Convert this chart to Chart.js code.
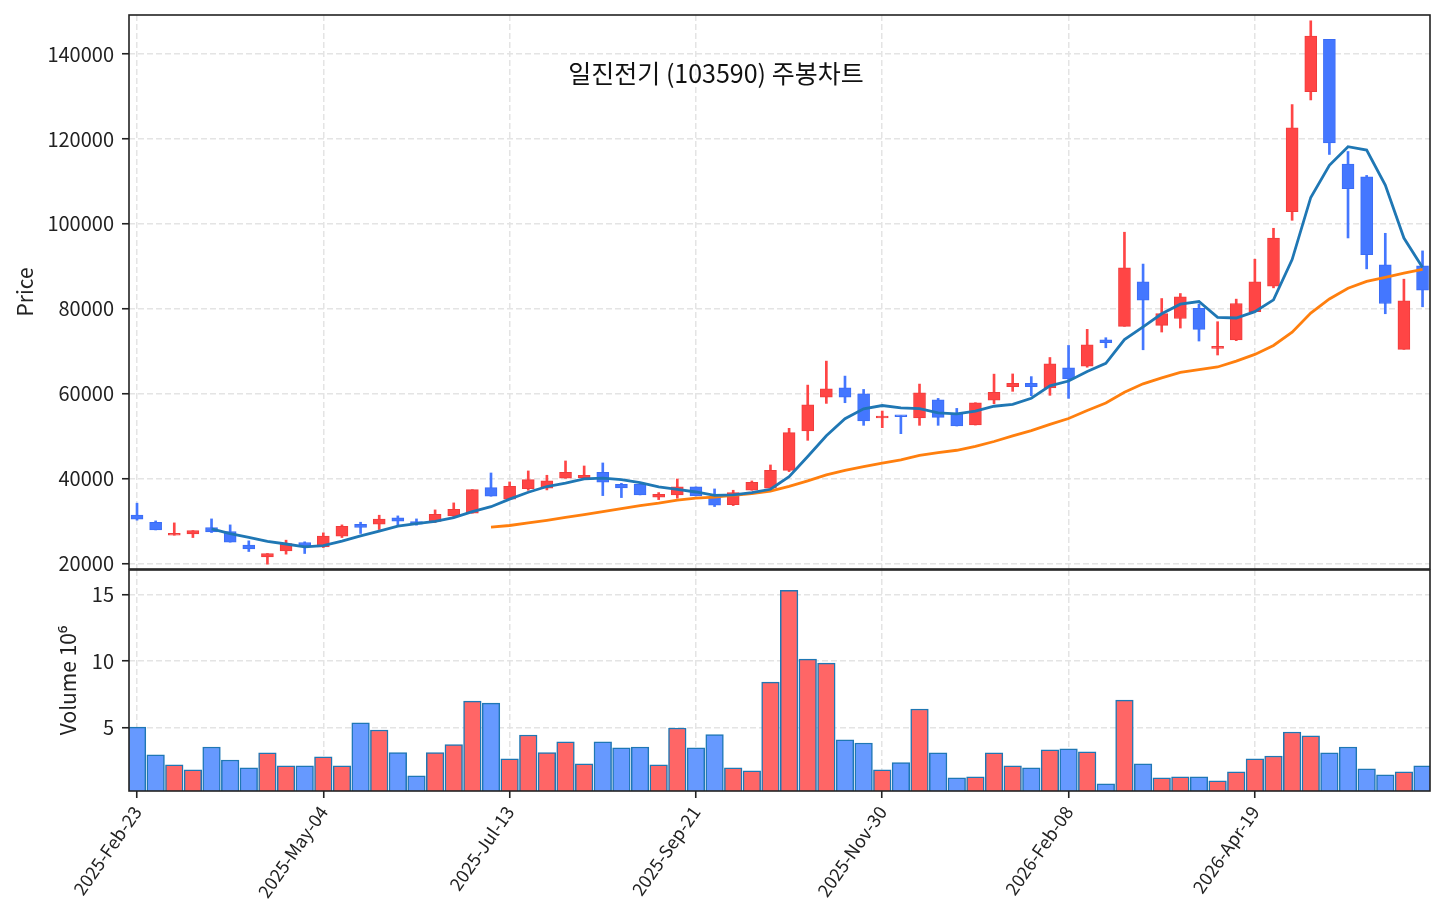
<!DOCTYPE html>
<html><head><meta charset="utf-8">
<script src="https://cdn.jsdelivr.net/npm/chart.js@4.4.1/dist/chart.umd.min.js"></script>
<style>
html,body{margin:0;padding:0;background:#fff;width:1446px;height:924px;overflow:hidden;}
#wrap{position:relative;width:1446px;height:924px;}
canvas{position:absolute;left:0;top:0;}
#title{position:absolute;left:416px;width:600px;top:54px;text-align:center;font-family:'Noto Sans CJK KR','Noto Sans',sans-serif;font-size:25px;line-height:36px;color:#111;white-space:nowrap;}
</style></head><body>
<div id="wrap">
<canvas id="c1" width="1446" height="924"></canvas>
<canvas id="c2" width="1446" height="924"></canvas>
<div id="title">일진전기 (103590) 주봉차트</div>
</div>
<script>
// ---- data (weekly candles, index 0 = 2025-Feb-23) ----
const xTickIdx = [0, 10, 20, 30, 40, 50, 60];
const xTickLabels = ['2025-Feb-23','2025-May-04','2025-Jul-13','2025-Sep-21','2025-Nov-30','2026-Feb-08','2026-Apr-19'];
const priceTicks = [20000, 40000, 60000, 80000, 100000, 120000, 140000];
const volTicks = [5, 10, 15];

const openP = [31400,29720,26660,26980,28470,27530,24310,21570,22980,24940,
  23920,26430,29250,29250,30740,29880,29880,31210,31840,37880,
  35130,37640,37720,40070,40230,41480,38660,38660,35600,36150,
  38030,35680,33880,37250,37720,41950,51200,59200,61400,59980,
  54260,54810,54260,58570,55360,52610,58490,61660,62450,61340,
  66080,66470,72700,75860,86350,76100,77700,80080,70680,72640,
  79300,85330,102870,131150,143450,114070,111100,90340,70440,90100];
const highP = [34200,30030,29560,27760,30500,29090,25330,22350,25490,25100,
  27210,29090,29720,31370,31210,30500,32620,34270,37400,41320,
  39210,41800,40780,44150,42970,43680,38890,38660,36700,39910,
  38030,37560,37250,39440,43210,51830,62020,67670,64140,61000,
  55910,54810,62260,58890,56530,57870,64600,64650,64020,68520,
  71360,75150,73180,98030,90530,82410,83590,81100,76950,82270,
  91670,98960,128100,147830,143450,117050,111410,97780,86970,93630];
const lowP = [30200,27900,26660,26110,27290,25020,22820,19840,22200,22350,
  23760,26110,27060,28000,29090,29020,29640,30820,31840,35840,
  35130,37250,37330,40070,40230,35990,35520,36150,35050,35370,
  35920,33410,33640,37250,37720,41640,49010,57710,57870,52540,
  51990,50580,52540,52540,52380,52610,57650,60550,59530,59610,
  58900,66230,70810,75860,70340,74520,75460,72400,69110,72480,
  79300,84930,100840,129190,116350,96680,89400,78830,70440,80470];
const closeP = [30430,27920,27130,27760,27450,25020,23450,22350,24700,24080,
  26430,28780,28470,30430,29960,29250,31600,32780,37400,35840,
  38190,39760,39440,41480,40780,39130,37800,36150,36310,38030,
  35920,33720,36700,39130,41950,50810,57400,61160,59200,53560,
  54730,54570,60220,54420,52380,57870,60300,62450,61660,67020,
  63470,71520,71990,89670,82010,78860,82800,75140,71070,81250,
  86340,96680,122610,144230,119090,108280,92770,81250,81880,84390];
const volume = [5.02,2.92,2.17,1.79,3.52,2.54,1.94,3.07,2.09,2.09,
  2.77,2.09,5.33,4.80,3.10,1.34,3.10,3.70,6.98,6.83,
  2.62,4.42,3.10,3.90,2.24,3.90,3.45,3.52,2.17,4.95,
  3.45,4.45,1.94,1.72,8.41,15.32,10.14,9.84,4.05,3.82,
  1.79,2.34,6.38,3.07,1.19,1.27,3.07,2.09,1.94,3.30,
  3.37,3.15,0.74,7.05,2.24,1.19,1.27,1.27,0.97,1.64,
  2.62,2.84,4.65,4.35,3.07,3.52,1.87,1.42,1.64,2.09];
const ma5 = [null,null,null,null,28140,27060,26160,25210,24590,23920,
  24200,25270,26490,27640,28810,29380,29940,30800,32200,33370,
  35160,36790,38130,38940,39930,40120,39730,39070,38030,37480,
  36840,36030,36140,36700,37480,40460,45200,50090,54100,56430,
  57210,56640,56460,55500,55260,55890,57040,57480,58930,61860,
  62980,65220,67130,72730,75730,78810,81070,81700,77980,77820,
  79320,82100,91590,106220,113790,118180,117400,109120,96650,89710];
const ma20 = [null,null,null,null,null,null,null,null,null,null,
  null,null,null,null,null,null,null,null,null,28560,
  28950,29540,30160,30840,31510,32220,32930,33620,34200,34900,
  35380,35620,36030,36470,37070,38150,39440,40860,41950,42830,
  43660,44400,45440,46090,46670,47600,48730,50040,51310,52760,
  54140,56030,57790,60320,62320,63720,64990,65690,66290,67670,
  69250,71360,74480,78970,82300,84820,86450,87390,88400,89270];

// ---- styling ----
const FONT = "'Noto Sans CJK KR','Noto Sans',sans-serif";
Chart.defaults.font.family = FONT;
Chart.defaults.color = '#222';
const GRID = '#e4e4e4';
const DASH = [6, 3];
const TICK_FS = 20, XTICK_FS = 18, LABEL_FS = 21;
const idx = closeP.map((_, i) => i);
const isUp = i => closeP[i] >= openP[i];
const candleFill = idx.map(i => isUp(i) ? '#ff4545' : '#4477ff');
const candleEdge = idx.map(i => isUp(i) ? '#f03c3c' : '#3a6cf5');
const volFill = idx.map(i => isUp(i) ? '#ff6666' : '#6699ff');
const XMIN = -0.43, XMAX = 69.4;

const framePlugin = {
  id: 'frame',
  afterDraw(chart) {
    const {ctx, chartArea: a} = chart;
    ctx.save();
    ctx.strokeStyle = '#222';
    ctx.lineWidth = 1.6;
    ctx.strokeRect(a.left, a.top, a.right - a.left, a.bottom - a.top);
    ctx.restore();
  }
};

const labelOf = v => { const k = xTickIdx.indexOf(v); return k >= 0 ? xTickLabels[k] : ''; };
const fitY = s => { s.width = 129; s.paddingTop = 0; s.paddingBottom = 0; };

// ---- price panel ----
new Chart(document.getElementById('c1'), {
  type: 'bar',
  data: {
    datasets: [
      { type: 'line', label: 'MA5', data: idx.filter(i => ma5[i] !== null).map(i => ({x: i, y: ma5[i]})),
        borderColor: '#1f77b4', borderWidth: 2.8, pointRadius: 0, tension: 0, order: 0 },
      { type: 'line', label: 'MA20', data: idx.filter(i => ma20[i] !== null).map(i => ({x: i, y: ma20[i]})),
        borderColor: '#ff7f0e', borderWidth: 2.8, pointRadius: 0, tension: 0, order: 0 },
      { type: 'bar', label: 'body', data: idx.map(i => ({x: i, y: [openP[i], closeP[i]]})),
        backgroundColor: candleFill, borderColor: candleEdge, borderWidth: 1, borderSkipped: false,
        barThickness: 12, grouped: false, minBarLength: 2, order: 1 },
      { type: 'bar', label: 'wick', data: idx.map(i => ({x: i, y: [lowP[i], highP[i]]})),
        backgroundColor: candleFill, borderWidth: 0, barThickness: 2, grouped: false, order: 2 }
    ]
  },
  options: {
    responsive: false, animation: false,
    layout: { padding: { left: 0, right: 16, top: 15, bottom: 355 } },
    plugins: { legend: { display: false }, tooltip: { enabled: false } },
    scales: {
      x: {
        type: 'linear', min: XMIN, max: XMAX, offset: false,
        afterBuildTicks: s => { s.ticks = xTickIdx.map(v => ({value: v})); },
        ticks: { display: false },
        grid: { color: GRID, lineWidth: 1.5, drawTicks: false, offset: false },
        border: { display: false, dash: DASH },
        afterFit: s => { s.height = 0; s.paddingLeft = 0; s.paddingRight = 0; }
      },
      y: {
        min: 18700, max: 149200,
        afterBuildTicks: s => { s.ticks = priceTicks.map(v => ({value: v})); },
        ticks: { font: { size: TICK_FS }, padding: 8, color: '#222', callback: v => String(v) },
        grid: { color: GRID, lineWidth: 1.5, tickColor: '#222', tickLength: 7, tickWidth: 1.6, tickBorderDash: [] },
        border: { display: false, dash: DASH },
        title: { display: true, text: 'Price', font: { size: LABEL_FS }, color: '#222', padding: { top: 12, bottom: 0 } },
        afterFit: fitY
      }
    }
  },
  plugins: [framePlugin]
});

// ---- volume panel ----
new Chart(document.getElementById('c2'), {
  type: 'bar',
  data: {
    datasets: [
      { label: 'Volume', data: idx.map(i => ({x: i, y: volume[i]})),
        backgroundColor: volFill, borderColor: '#1f77b4', borderWidth: 1.5, borderSkipped: false,
        barThickness: 17.6, grouped: false }
    ]
  },
  options: {
    responsive: false, animation: false,
    layout: { padding: { left: 0, right: 16, top: 570, bottom: 0 } },
    plugins: { legend: { display: false }, tooltip: { enabled: false } },
    scales: {
      x: {
        type: 'linear', min: XMIN, max: XMAX, offset: false,
        afterBuildTicks: s => { s.ticks = xTickIdx.map(v => ({value: v})); },
        ticks: { font: { size: XTICK_FS }, color: '#222', minRotation: 55, maxRotation: 55, autoSkip: false, padding: 4,
                 callback: v => labelOf(v) },
        grid: { color: GRID, lineWidth: 1.5, tickColor: '#222', tickLength: 7, tickWidth: 1.6, tickBorderDash: [], offset: false },
        border: { display: false, dash: DASH },
        afterFit: s => { s.height = 133; }
      },
      y: {
        min: 0.2, max: 16.86,
        afterBuildTicks: s => { s.ticks = volTicks.map(v => ({value: v})); },
        ticks: { font: { size: TICK_FS }, padding: 8, color: '#222', callback: v => String(v) },
        grid: { color: GRID, lineWidth: 1.5, tickColor: '#222', tickLength: 7, tickWidth: 1.6, tickBorderDash: [] },
        border: { display: false, dash: DASH },
        title: { display: true, text: 'Volume 10⁶', font: { size: LABEL_FS }, color: '#222', padding: { top: 55, bottom: 0 } },
        afterFit: fitY
      }
    }
  },
  plugins: [framePlugin]
});
</script>
</body></html>
